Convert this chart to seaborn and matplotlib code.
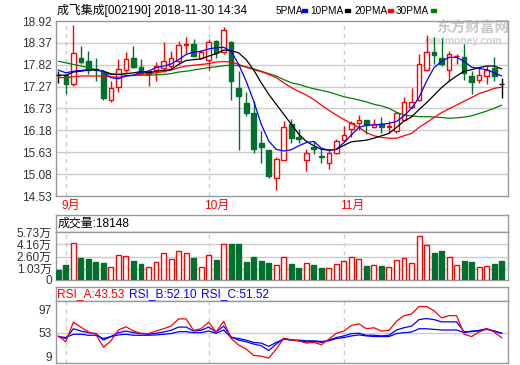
import matplotlib
matplotlib.use("Agg")
import matplotlib.pyplot as plt
from matplotlib.patches import Rectangle
import numpy as np
import pandas as pd
import seaborn as sns

# daily candles 2018-08-31 .. 2018-11-30
opens = [17.56, 17.56, 17.33, 18.00, 17.91, 17.72, 17.64, 16.93, 17.26, 17.69,
         18.00, 17.76, 17.58, 17.68, 17.75, 17.80, 17.91, 18.33, 18.35, 17.98,
         17.94, 18.41, 18.14, 18.40, 17.23, 16.86, 16.62, 15.87, 15.68, 14.98,
         15.44, 16.33, 16.00, 15.43, 15.77, 15.54, 15.35, 15.60, 15.93, 16.22,
         16.35, 16.44, 16.26, 16.33, 16.25, 16.15, 16.44, 16.77, 16.94, 17.69,
         18.13, 18.00, 17.69, 18.04, 18.02, 17.54, 17.44, 17.54, 17.75, 17.35]
highs = [17.66, 17.58, 18.83, 18.29, 18.17, 17.99, 17.70, 17.41, 17.97, 18.13,
         18.29, 17.97, 17.70, 17.90, 18.40, 18.16, 18.41, 18.52, 18.48, 18.19,
         18.48, 18.45, 18.77, 18.41, 17.66, 17.15, 16.91, 16.16, 15.68, 15.50,
         16.40, 16.47, 16.20, 15.70, 15.91, 15.70, 15.70, 15.95, 16.29, 16.40,
         16.56, 16.44, 16.47, 16.50, 16.40, 16.64, 17.02, 17.23, 18.08, 18.58,
         18.52, 18.50, 18.16, 18.10, 18.35, 17.66, 17.75, 17.80, 18.01, 17.50]
lows = [17.37, 17.08, 17.30, 17.83, 17.60, 17.42, 16.93, 16.90, 17.15, 17.62,
        17.73, 17.58, 17.30, 17.41, 17.65, 17.70, 17.85, 18.08, 18.02, 17.96,
        17.70, 17.98, 18.08, 16.93, 15.68, 16.54, 15.62, 15.35, 14.98, 14.68,
        15.44, 15.85, 15.87, 15.15, 15.58, 15.35, 15.20, 15.58, 15.90, 16.01,
        16.18, 16.08, 16.23, 16.12, 16.10, 16.12, 16.41, 16.75, 16.91, 17.66,
        17.83, 17.79, 17.41, 17.85, 17.44, 17.10, 17.37, 17.33, 17.41, 17.00]
closes = [17.56, 17.33, 18.12, 17.90, 17.69, 17.68, 16.98, 17.23, 17.72, 17.96,
          17.77, 17.62, 17.66, 17.79, 17.91, 18.00, 18.31, 18.35, 18.05, 18.15,
          18.40, 18.12, 18.70, 17.41, 17.03, 16.60, 15.70, 15.76, 15.04, 15.45,
          16.25, 15.98, 15.97, 15.62, 15.72, 15.52, 15.62, 15.91, 16.06, 16.35,
          16.44, 16.30, 16.33, 16.26, 16.28, 16.60, 16.90, 16.90, 17.85, 18.14,
          18.06, 17.83, 18.08, 18.05, 17.62, 17.40, 17.56, 17.70, 17.54, 17.35]

ma5 = [17.69, 17.62, 17.66, 17.68, 17.70, 17.70, 17.66, 17.50, 17.47, 17.54,
       17.56, 17.64, 17.66, 17.75, 17.79, 17.84, 17.95, 18.08, 18.14, 18.16,
       18.22, 18.25, 18.26, 18.16, 17.83, 17.41, 16.91, 16.33, 15.91, 15.70,
       15.66, 15.69, 15.79, 15.87, 15.90, 15.73, 15.68, 15.70, 15.87, 16.06,
       16.25, 16.31, 16.31, 16.33, 16.35, 16.40, 16.54, 16.73, 17.00, 17.41,
       17.75, 17.91, 18.01, 18.01, 17.91, 17.76, 17.73, 17.70, 17.62, 17.54]
ma10 = [17.56, 17.56, 17.64, 17.66, 17.69, 17.69, 17.66, 17.58, 17.58, 17.60,
        17.62, 17.65, 17.62, 17.66, 17.68, 17.70, 17.83, 17.93, 17.95, 17.97,
        18.04, 18.10, 18.19, 18.18, 18.12, 17.95, 17.69, 17.37, 17.08, 16.83,
        16.58, 16.33, 16.08, 15.90, 15.79, 15.70, 15.68, 15.70, 15.80, 15.89,
        15.91, 15.93, 15.98, 16.04, 16.10, 16.25, 16.41, 16.51, 16.70, 16.87,
        17.06, 17.25, 17.41, 17.54, 17.66, 17.70, 17.75, 17.79, 17.79, 17.72]
ma20 = [17.50, 17.50, 17.52, 17.54, 17.54, 17.54, 17.54, 17.52, 17.51, 17.54,
        17.56, 17.58, 17.60, 17.62, 17.65, 17.69, 17.75, 17.79, 17.81, 17.83,
        17.85, 17.89, 17.90, 17.89, 17.83, 17.76, 17.70, 17.65, 17.58, 17.50,
        17.37, 17.25, 17.15, 17.06, 16.95, 16.81, 16.68, 16.56, 16.45, 16.35,
        16.25, 16.12, 16.04, 16.00, 15.98, 15.98, 16.04, 16.10, 16.25, 16.37,
        16.50, 16.62, 16.72, 16.81, 16.91, 17.00, 17.10, 17.16, 17.23, 17.26]
ma30 = [17.91, 17.87, 17.83, 17.79, 17.75, 17.70, 17.66, 17.60, 17.58, 17.56,
        17.55, 17.56, 17.56, 17.57, 17.58, 17.60, 17.64, 17.66, 17.69, 17.72,
        17.75, 17.77, 17.80, 17.81, 17.80, 17.77, 17.72, 17.66, 17.60, 17.54,
        17.45, 17.37, 17.33, 17.27, 17.22, 17.18, 17.14, 17.08, 17.02, 16.98,
        16.94, 16.89, 16.83, 16.79, 16.73, 16.63, 16.56, 16.54, 16.52, 16.52,
        16.51, 16.50, 16.48, 16.49, 16.51, 16.54, 16.60, 16.66, 16.73, 16.81]

# volume in 万手
volume = [0.94, 1.46, 4.28, 2.37, 2.24, 1.85, 1.72, 1.29, 2.85, 2.72,
          1.98, 1.59, 1.29, 1.94, 3.11, 2.24, 3.24, 3.11, 2.37, 1.29,
          2.85, 2.11, 4.15, 4.15, 4.15, 1.85, 2.50, 1.98, 1.72, 1.55,
          2.59, 1.59, 1.07, 1.81, 1.46, 1.07, 1.16, 1.68, 2.07, 2.59,
          2.33, 1.33, 1.55, 1.33, 1.29, 2.20, 2.46, 1.81, 5.19, 4.02,
          3.11, 3.24, 2.59, 1.55, 2.07, 1.85, 1.29, 1.42, 1.59, 1.98]

rsi_a = [46.9, 35.9, 72.6, 63.4, 54.2, 49.9, 25.5, 37.7, 57.9, 64.0,
         56.0, 51.8, 51.2, 56.0, 60.3, 65.2, 78.7, 78.7, 57.3, 60.3,
         72.6, 54.2, 74.4, 42.0, 29.8, 22.4, 10.2, 9.0, 5.3, 22.4,
         42.6, 39.6, 37.7, 33.4, 34.7, 30.4, 40.8, 51.8, 56.0, 66.4,
         69.5, 60.3, 62.2, 56.0, 57.3, 74.4, 84.8, 87.8, 101.9, 101.9,
         94.0, 80.5, 84.8, 84.8, 50.0, 45.7, 54.2, 60.3, 54.2, 43.5]
rsi_b = [45.7, 42.0, 60.3, 56.0, 53.0, 51.2, 39.0, 45.7, 53.0, 56.0,
         53.0, 51.2, 50.0, 51.8, 54.2, 57.3, 63.4, 63.4, 56.0, 57.3,
         63.4, 54.2, 65.2, 45.0, 39.0, 35.9, 31.6, 28.6, 19.4, 31.6,
         42.0, 39.0, 37.7, 35.9, 36.5, 34.7, 39.0, 43.8, 46.9, 51.2,
         51.8, 48.1, 48.1, 46.9, 48.1, 57.9, 62.2, 65.2, 77.4, 79.3,
         77.4, 73.2, 73.2, 73.2, 54.8, 54.8, 57.3, 60.3, 56.0, 52.1]
rsi_c = [45.7, 43.8, 50.0, 50.0, 48.1, 48.1, 42.0, 45.7, 48.7, 50.0,
         48.1, 48.1, 48.1, 48.7, 50.0, 51.2, 54.8, 54.8, 53.0, 53.0,
         56.0, 51.8, 57.9, 43.8, 42.0, 39.0, 34.7, 33.4, 27.3, 34.7,
         40.8, 39.0, 39.0, 37.7, 37.7, 36.5, 37.7, 42.0, 43.8, 46.9,
         48.7, 46.9, 45.7, 45.7, 45.7, 51.2, 53.0, 54.2, 60.3, 60.3,
         59.1, 57.9, 57.9, 57.9, 53.0, 56.0, 56.0, 59.1, 56.0, 51.5]

price_ticks = [14.53, 15.08, 15.63, 16.18, 16.73, 17.27, 17.82, 18.37, 18.92]
vol_ticks = [1.03, 2.60, 4.16, 5.73]
vol_labels = ["1.03万", "2.60万", "4.16万", "5.73万"]
rsi_ticks = [9, 53, 97]
month_pos = [1, 20, 38]
month_labels = ["9月", "10月", "11月"]

UP = "#ff0000"
DOWN = "#00702e"
FRAME = "#999999"
GRID = "#cccccc"
TXT = "#333333"

sns.set_theme(style="white")
plt.rcParams["font.family"] = ["Liberation Sans", "Noto Sans CJK SC"]

df = pd.DataFrame({"open": opens, "high": highs, "low": lows, "close": closes,
                   "vol": volume})
df["idx"] = np.arange(len(df))
up = df["close"] > df["open"]
down = df["close"] < df["open"]
flat = ~(up | down)

W, H = 520, 365
fig = plt.figure(figsize=(W / 100, H / 100), dpi=100)


def px_axes(x0, y0, x1, y1):
    return fig.add_axes([x0 / W, 1 - y1 / H, (x1 - x0) / W, (y1 - y0) / H])


ax = px_axes(56, 21, 508, 196)
ax_vh = px_axes(56, 214.5, 508, 232)
ax_v = px_axes(56, 232, 508, 280)
ax_rh = px_axes(56, 287, 508, 301)
ax_r = px_axes(56, 301, 508, 363)

XLIM = (-0.31, 59.84)
for a in (ax, ax_vh, ax_v, ax_rh, ax_r):
    a.set_xlim(*XLIM)
    a.set_facecolor("white")
    a.set_xticks([])
    for s in a.spines.values():
        s.set_color(FRAME)
        s.set_linewidth(1)
    a.tick_params(axis="y", length=0, pad=3, labelsize=8.6, labelcolor=TXT)
for a in (ax_vh, ax_rh):
    a.set_yticks([])

# main price panel
ax.set_ylim(14.53, 18.92)
ax.set_yticks(price_ticks)
ax.set_yticklabels([f"{t:.2f}" for t in price_ticks])
for t in price_ticks[1:-1]:
    ax.axhline(t, color=GRID, lw=1, zorder=0)
for a in (ax, ax_v, ax_r):
    for m in month_pos:
        a.axvline(m, color=GRID, lw=1, ls=(0, (3, 3)), zorder=0)

# watermark sits behind the candles
ax.text(473 / W, 1 - 29 / H, "东方财富网", fontsize=10.5, fontweight="bold",
        color="#c8c8c8", ha="center", va="center", transform=fig.transFigure,
        zorder=0.5)
ax.text(463 / W, 1 - 40.5 / H, "eastmoney.com", fontsize=7.5, fontweight="bold",
        color="#cfcfcf", ha="center", va="center", transform=fig.transFigure,
        zorder=0.5)

colors = np.where(up, UP, np.where(down, DOWN, "black"))
ax.vlines(df["idx"], df["low"], df["high"], colors=colors, lw=1, zorder=2)
bw = 0.62
body_lo = df[["open", "close"]].min(axis=1)
body_h = (df["close"] - df["open"]).abs().clip(lower=0.01)
ax.bar(df["idx"][up], body_h[up], bottom=body_lo[up], width=bw,
       facecolor="white", edgecolor=UP, lw=1, zorder=3)
ax.bar(df["idx"][down], body_h[down], bottom=body_lo[down], width=bw,
       facecolor=DOWN, edgecolor=DOWN, lw=1, zorder=3)
ax.hlines(df["close"][flat], df["idx"][flat] - bw / 2, df["idx"][flat] + bw / 2,
          colors="black", lw=1, zorder=3)

for vals, c in [(ma30, "#008000"), (ma20, "#ff0000"), (ma10, "#000000"),
                (ma5, "#0000ff")]:
    sns.lineplot(x=df["idx"], y=vals, ax=ax, color=c, lw=0.9, zorder=4)
ax.set_xlabel("")
ax.set_ylabel("")
ax.set_xticks([])

for m, lab in zip(month_pos, month_labels):
    ax.text(m - 0.55, -0.025, lab, color=UP, fontsize=8.6, ha="left", va="top",
            transform=ax.get_xaxis_transform())

# volume panel
VOL_FLOOR = -0.40
ax_v.set_ylim(VOL_FLOOR, 5.73)
ax_v.set_yticks([VOL_FLOOR] + vol_ticks)
ax_v.set_yticklabels(["0"] + vol_labels)
for t in vol_ticks[:-1]:
    ax_v.axhline(t, color=GRID, lw=1, zorder=0)
vol_up = df["close"] > df["open"]
ax_v.bar(df["idx"][vol_up], df["vol"][vol_up] - VOL_FLOOR, bottom=VOL_FLOOR,
         width=0.66, facecolor="white", edgecolor=UP, lw=1, zorder=3)
ax_v.bar(df["idx"][~vol_up], df["vol"][~vol_up] - VOL_FLOOR, bottom=VOL_FLOOR,
         width=0.66, facecolor=DOWN, edgecolor=DOWN, lw=1, zorder=3)
ax_vh.text(0.004, 0.45, "成交量:18148", transform=ax_vh.transAxes, fontsize=8.6,
           color="black", ha="left", va="center")

# RSI panel
ax_r.set_ylim(-3.8, 112.2)
ax_r.set_yticks(rsi_ticks)
ax_r.axhline(53, color=GRID, lw=1, zorder=0)
for vals, c in [(rsi_c, "#0000ff"), (rsi_b, "#0000ff"), (rsi_a, "#ff0000")]:
    sns.lineplot(x=df["idx"], y=vals, ax=ax_r, color=c, lw=0.9, zorder=3)
ax_r.set_xlabel("")
ax_r.set_ylabel("")
ax_r.set_xticks([])
for xp, lab, c in [(57, "RSI_A:43.53", "#ff0000"), (129, "RSI_B:52.10", "#0000ff"),
                   (201, "RSI_C:51.52", "#0000ff")]:
    fig.text(xp / W, 1 - 294.5 / H, lab, color=c, fontsize=8.6, ha="left",
             va="center")

# header texts
fig.text(57 / W, 1 - 10 / H, "成飞集成[002190] 2018-11-30 14:34", fontsize=8.6,
         color="black", ha="left", va="center")
for xp, lab, sx, c in [(276, "5PMA", 302, "#0000ff"), (310, "10PMA", 345, "#000000"),
                       (354, "20PMA", 388, "#ff0000"), (396, "30PMA", 431, "#008000")]:
    fig.text(xp / W, 1 - 10.5 / H, lab, fontsize=7.2, color="black", ha="left",
             va="center")
    fig.patches.append(Rectangle((sx / W, 1 - 12 / H), 5 / W, 2.5 / H,
                                 transform=fig.transFigure, color=c))

fig.savefig("out.png", dpi=100, facecolor="white")
